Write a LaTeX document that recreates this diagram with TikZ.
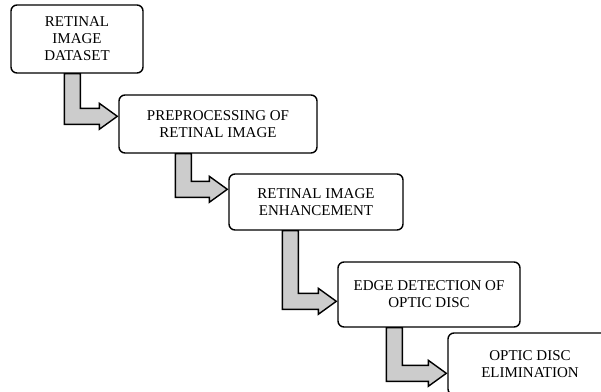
\documentclass[tikz,border=0pt]{standalone}
\usepackage{fontspec}
\setmainfont{Liberation Serif}
\usetikzlibrary{calc}

% L-shaped block arrow: from box, to box, shaft offset, tip depth below top of target
\newcommand{\stepArrow}[4]{%
	\filldraw[steparrow] let \p1=(#1.south west), \p2=(#2.north west) in
		(\x1+#3,\y1) -- (\x1+#3+16pt,\y1) -- (\x1+#3+16pt,\y2-#4+8pt)
		-- (\x2-19pt,\y2-#4+8pt) -- (\x2-19pt,\y2-#4+13pt) -- (\x2-1pt,\y2-#4)
		-- (\x2-19pt,\y2-#4-13pt) -- (\x2-19pt,\y2-#4-8pt) -- (\x1+#3,\y2-#4-8pt) -- cycle;}

\begin{document}
\begin{tikzpicture}[x=1pt,y=-1pt,
		stepbox/.style={draw=black, line width=1.4pt, fill=white, rounded corners=6pt, align=center, inner sep=0pt,
			font=\fontsize{15}{17}\selectfont},
		steparrow/.style={draw=black, fill=gray!40, line width=1.4pt, line join=miter}]
		\useasboundingbox (0,0) rectangle (601,391);
		\clip (0,0) rectangle (601,391);
		%dataset 11-143 (5 - 73)
		\node[stepbox, minimum width=132pt, minimum height=68pt] (dataset) at (77,39) {RETINAL\\IMAGE\\DATASET};
		%preprocessing 119-317 (95 - 153)
		\node[stepbox, minimum width=198pt, minimum height=58pt] (preproc) at (218,124) {PREPROCESSING OF\\RETINAL IMAGE};
		%enhancement 229-403 (174 - 230)
		\node[stepbox, minimum width=174pt, minimum height=56pt] (enhance) at (316,202) {RETINAL IMAGE\\ENHANCEMENT};
		%edge detection 338-520 (262 - 327)
		\node[stepbox, minimum width=182pt, minimum height=65pt] (edges) at (429,294.5) {EDGE DETECTION OF\\OPTIC DISC};
		%elimination 448-612 (333 - 395), cut by the page
		\node[stepbox, minimum width=164pt, minimum height=62pt] (elim) at (530,364) {OPTIC DISC\\ELIMINATION};

		\stepArrow{dataset}{preproc}{54pt}{22pt}
		\stepArrow{preproc}{enhance}{57pt}{16pt}
		\stepArrow{enhance}{edges}{54pt}{40pt}
		\stepArrow{edges}{elim}{49pt}{41pt}
	\end{tikzpicture}
\end{document}
